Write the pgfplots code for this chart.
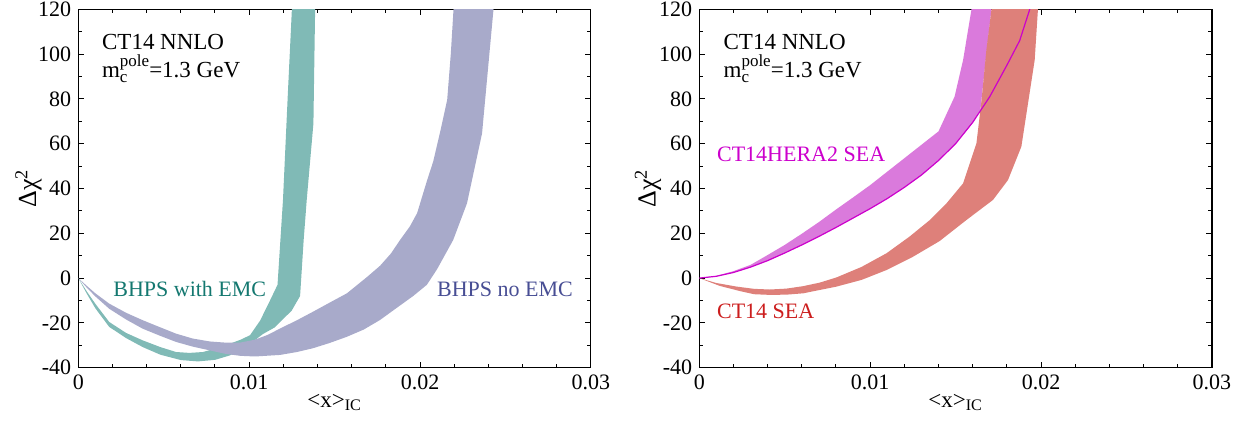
\documentclass[border=0pt]{standalone}
\usepackage{fontspec}
\setmainfont{Liberation Serif}
\usepackage{pgfplots}
\pgfplotsset{compat=1.18}
\definecolor{tealfill}{RGB}{128,186,182}
\definecolor{purpfill}{RGB}{168,170,202}
\definecolor{magfill}{RGB}{218,122,220}
\definecolor{redfill}{RGB}{222,128,122}
\definecolor{magline}{RGB}{204,0,204}
\definecolor{teallab}{RGB}{20,120,112}
\definecolor{purplab}{RGB}{72,78,148}
\definecolor{redlab}{RGB}{204,30,30}
\newcommand{\mcpole}{m\rlap{\raisebox{-0.5ex}{\fontsize{8.5}{9}\selectfont c}}\raisebox{1.0ex}{\fontsize{8.5}{9}\selectfont pole}=1.3 GeV}
\tikzset{txt/.style={anchor=base west, inner sep=0pt, font=\fontsize{11}{13}\selectfont}}
\pgfplotsset{
  chi/.style={
    scale only axis, width=256.3pt, height=179.2pt,
    xmin=0, xmax=0.03, ymin=-40, ymax=120,
    xtick={0,0.01,0.02,0.03}, xticklabels={0,0.01,0.02,0.03},
    minor xtick={0.002,0.004,0.006,0.008,0.012,0.014,0.016,0.018,0.022,0.024,0.026,0.028},
    ytick={-40,-20,0,20,40,60,80,100,120},
    yticklabels={-40,-20,0,20,40,60,80,100,120},
    minor ytick={-30,-10,10,30,50,70,90,110},
    xtick pos=both, ytick pos=both,
    xticklabel pos=left, yticklabel pos=left,
    tick align=inside,
    axis line style={line width=0.6pt},
    every tick/.style={black, line width=0.5pt},
    major tick length=3pt, minor tick length=2pt,
    tick label style={font=\fontsize{11}{13}\selectfont},
    scaled x ticks=false,
    xlabel={<x>\textsubscript{IC}},
    ylabel={Δχ\textsuperscript{2}},
    xlabel style={at={(axis description cs:0.5,-0.11)}, anchor=base, font=\fontsize{11.5}{13}\selectfont},
  }
}
\begin{document}
\begin{tikzpicture}
\path[use as bounding box] (0,0) rectangle (625pt,210.5pt);
% ---------------- left panel ----------------
\begin{axis}[chi, at={(39.15pt,26.65pt)}, anchor=south west,
  every axis y label/.style={at={(axis description cs:-0.097,0.5)}, rotate=90, anchor=center, font=\fontsize{13}{15}\selectfont}]
\addplot[draw=none, fill=tealfill] coordinates {
(0,0) (0.0005,-6) (0.001,-11.5) (0.00181,-19.6) (0.0028,-24.5) (0.00377,-27.8) (0.0048,-30.8) (0.00572,-33) (0.0065,-33.4) (0.0073,-33) (0.008,-31.5) (0.0088,-29.5) (0.0095,-27.5) (0.01005,-25.5) (0.01064,-19) (0.01122,-10) (0.01166,-3) (0.01198,35) (0.01225,80) (0.0125,120) (0.01252,130)
(0.01387,130) (0.01386,120) (0.01376,69) (0.01337,35) (0.01319,17) (0.01298,-8) (0.01249,-14.5) (0.0115,-22) (0.0108,-25) (0.00995,-30) (0.00888,-34.5) (0.008,-36.5) (0.007,-37.2) (0.006,-36.6) (0.0048,-34.2) (0.00377,-30.8) (0.0028,-26.8) (0.00181,-21.8) (0.001,-13.5) (0.0005,-7)
};
\addplot[draw=none, fill=purpfill] coordinates {
(0,0) (0.0005,-3.5) (0.001,-6.8) (0.00181,-11.4) (0.0028,-15.5) (0.00377,-18.8) (0.0048,-22) (0.00572,-24.8) (0.0067,-27) (0.00771,-28.3) (0.0086,-28.8) (0.00947,-28.8) (0.01034,-27.5) (0.0111,-25.3) (0.01181,-22.5) (0.0128,-18.8) (0.01374,-15) (0.0147,-11) (0.01572,-6.8) (0.0169,0.5) (0.01766,5.5) (0.0183,11) (0.01883,17) (0.0194,23) (0.01983,29) (0.02042,43.8) (0.02077,52) (0.0212,66) (0.02159,79.6) (0.0218,100) (0.02196,120) (0.022,130)
(0.02435,130) (0.0243,120) (0.02399,94.4) (0.02363,64.6) (0.02275,33.4) (0.02194,17) (0.021,4) (0.0204,-3) (0.0196,-8) (0.0186,-13.5) (0.01766,-18.7) (0.0167,-23) (0.01572,-26.2) (0.0147,-29) (0.01374,-31.3) (0.0128,-33) (0.01181,-34.3) (0.01034,-35) (0.00947,-34.7) (0.0086,-33.8) (0.00771,-32.3) (0.0067,-30.6) (0.00572,-28.5) (0.0048,-25.8) (0.00377,-22.6) (0.0028,-18.5) (0.00181,-13.7) (0.001,-8.2) (0.0005,-4.3)
};
\node[txt, font=\fontsize{11.5}{13}\selectfont] at (axis cs:0.00137,102.1) {CT14 NNLO};
\node[txt, font=\fontsize{11.5}{13}\selectfont] at (axis cs:0.00137,89.6) {\mcpole};
\node[txt, text=teallab] at (axis cs:0.00203,-8.3) {BHPS with EMC};
\node[txt, text=purplab] at (axis cs:0.02098,-8.3) {BHPS no EMC};
\end{axis}
% ---------------- right panel ----------------
\begin{axis}[chi, at={(349.65pt,26.65pt)}, anchor=south west,
  every axis y label/.style={at={(axis description cs:-0.1,0.5)}, rotate=90, anchor=center, font=\fontsize{13}{15}\selectfont}]
\addplot[draw=none, fill=magfill] coordinates {
(0,0) (0.001,1) (0.002,3.1) (0.003,5.9) (0.004,10.3) (0.005,14.8) (0.006,19.8) (0.007,25) (0.008,30.6) (0.009,36) (0.010,41.5) (0.011,47.5) (0.012,53.5) (0.013,59.5) (0.014,65.5) (0.01494,81) (0.01544,97.4) (0.01593,120) (0.016,130)
(0.01715,130) (0.0171,120) (0.0168,100) (0.01645,75)
(0.016,69.5) (0.015,60) (0.014,52.5) (0.013,46) (0.012,40.5) (0.011,35.5) (0.010,31) (0.009,26.8) (0.008,22.6) (0.007,18.6) (0.006,14.8) (0.005,11.2) (0.004,7.8) (0.003,4.9) (0.002,2.5) (0.001,0.8)
};
\addplot[draw=none, fill=redfill] coordinates {
(0,0) (0.001,-2.2) (0.00219,-3.8) (0.0032,-4.8) (0.00413,-5.1) (0.0051,-4.7) (0.00608,-3.6) (0.00706,-2) (0.00803,0.3) (0.0095,5) (0.01096,11.1) (0.0123,18.5) (0.01349,25.9) (0.01447,33.4) (0.01544,42.3) (0.01622,60.2) (0.01652,79.5) (0.0168,101.8) (0.0171,120) (0.01715,130)
(0.01985,130) (0.01982,120) (0.01963,97.4) (0.01885,58.7) (0.01807,43.8) (0.01719,34.9) (0.01563,25.9) (0.01406,16.5) (0.0125,9.5) (0.01096,3.6) (0.0095,-0.8) (0.00803,-3.8) (0.00608,-6.8) (0.0051,-7.4) (0.00413,-7.5) (0.0032,-7.2) (0.00238,-5.8) (0.0012,-3.5)
};
\addplot[magline, line width=0.6pt] coordinates {
(0,0) (0.001,0.8) (0.002,2.5) (0.003,4.9) (0.004,7.8) (0.005,11.2) (0.006,14.8) (0.007,18.6) (0.008,22.6) (0.009,26.8) (0.010,31) (0.011,35.5) (0.012,40.5) (0.013,46) (0.014,52.5) (0.015,60) (0.016,69.5) (0.017,81) (0.018,95) (0.01875,106) (0.01934,120) (0.0195,126)
};
\node[txt, font=\fontsize{11.5}{13}\selectfont] at (axis cs:0.0014,102.1) {CT14 NNLO};
\node[txt, font=\fontsize{11.5}{13}\selectfont] at (axis cs:0.0014,89.6) {\mcpole};
\node[txt, text=magline] at (axis cs:0.00102,52) {CT14HERA2 SEA};
\node[txt, text=redlab] at (axis cs:0.00102,-17.9) {CT14 SEA};
\end{axis}
\end{tikzpicture}
\end{document}
